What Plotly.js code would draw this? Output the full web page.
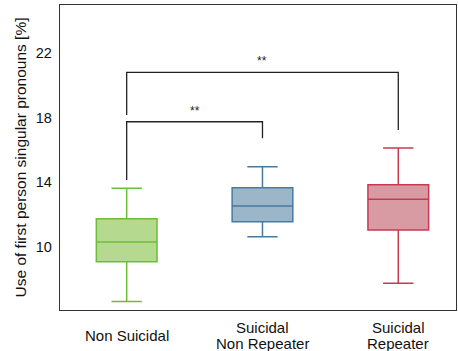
<!DOCTYPE html>
<html>
<head>
<meta charset="utf-8">
<script src="https://cdn.plot.ly/plotly-3.0.1.min.js"></script>
<style>
html,body{margin:0;padding:0;background:#fff;}
#chart{width:458px;height:351px;}
</style>
</head>
<body>
<div id="chart"></div>
<script>
// Data
const categories = ['Non Suicidal', 'Suicidal<br>Non Repeater', 'Suicidal<br>Repeater'];
const lowerFence = [6.65, 10.64, 7.78];
const q1Values   = [9.10, 11.58, 11.07];
const medians    = [10.33, 12.55, 12.96];
const q3Values   = [11.75, 13.67, 13.86];
const upperFence = [13.64, 14.97, 16.12];
const lineColors = ['rgb(108,189,58)', 'rgb(72,122,160)', 'rgb(200,58,80)'];
const fillColors = ['rgb(180,217,143)', 'rgb(155,182,201)', 'rgb(217,155,163)'];
const yTicks = [10, 14, 18, 22];

// Significance brackets: [from category index, to category index]
const sigPairs     = [[0, 1], [0, 2]];
const sigLevel     = [17.74, 20.79];
const sigLeftEnd   = [14.15, 18.16];
const sigRightEnd  = [16.72, 17.23];
const sigLabels    = ['**', '**'];

const FONT = 'Liberation Sans, Arial, Helvetica, sans-serif';

const traces = categories.map((c, i) => ({
  type: 'box',
  x: [i],
  q1: [q1Values[i]],
  median: [medians[i]],
  q3: [q3Values[i]],
  lowerfence: [lowerFence[i]],
  upperfence: [upperFence[i]],
  width: 0.447,
  whiskerwidth: 0.5,
  fillcolor: fillColors[i],
  line: {color: lineColors[i], width: 1.5},
  hoverinfo: 'none',
  showlegend: false
}));

const shapes = [];
const annotations = [];
sigPairs.forEach((p, k) => {
  const xa = p[0], xb = p[1];
  shapes.push({
    type: 'path', xref: 'x', yref: 'y',
    path: 'M ' + xa + ' ' + sigLeftEnd[k] + ' L ' + xa + ' ' + sigLevel[k] +
          ' L ' + xb + ' ' + sigLevel[k] + ' L ' + xb + ' ' + sigRightEnd[k],
    line: {color: '#222', width: 1.3}
  });
  annotations.push({
    xref: 'x', yref: 'y', x: (xa + xb) / 2, y: sigLevel[k],
    text: sigLabels[k], showarrow: false, yanchor: 'bottom', yshift: 2,
    font: {family: FONT, size: 12, color: '#222'}
  });
});

// category labels, one annotation per text line with tight line spacing
const LINE_GAP = 16;
categories.forEach((c, i) => {
  const lines = c.split('<br>');
  lines.forEach((ln, j) => {
    annotations.push({
      xref: 'x', yref: 'paper', x: i, y: -0.082,
      yshift: -(j - (lines.length - 1) / 2) * LINE_GAP,
      text: ln, showarrow: false, yanchor: 'middle', xanchor: 'center',
      font: {family: FONT, size: 15, color: '#111'}
    });
  });
});

const layout = {
  width: 458, height: 351,
  margin: {l: 60, r: 2, t: 5, b: 41},
  paper_bgcolor: '#fff', plot_bgcolor: '#fff',
  showlegend: false,
  boxmode: 'overlay',
  font: {family: FONT, size: 14, color: '#111'},
  xaxis: {
    type: 'linear', range: [-0.491, 2.425],
    showticklabels: false, ticks: '', showgrid: false, zeroline: false,
    showline: true, mirror: true, linecolor: '#333', linewidth: 1.3
  },
  yaxis: {
    range: [6.13, 24.94], tickvals: yTicks, ticktext: yTicks.map(String),
    ticks: '', showgrid: false, zeroline: false,
    showline: true, mirror: true, linecolor: '#333', linewidth: 1.3,
    ticklabelstandoff: 4,
    tickfont: {size: 14.5, color: '#111'},
    title: {text: 'Use of first person singular pronouns [%]', standoff: 5,
            font: {size: 15.5, color: '#111'}}
  },
  shapes: shapes,
  annotations: annotations
};

Plotly.newPlot('chart', traces, layout, {displayModeBar: false, staticPlot: true});
</script>
</body>
</html>
